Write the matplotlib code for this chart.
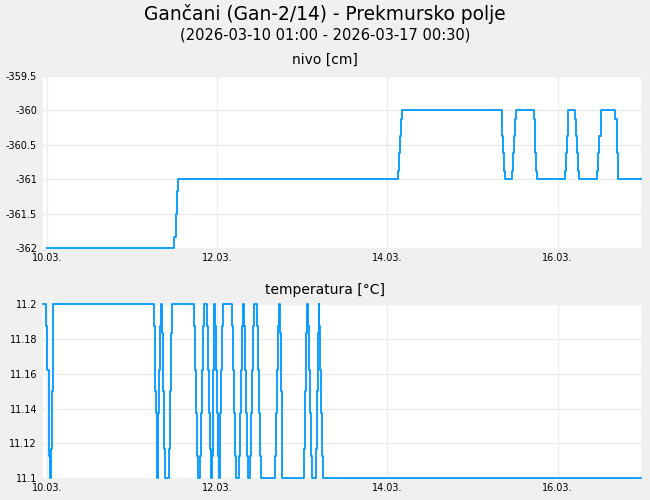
import matplotlib
matplotlib.use("Agg")
import matplotlib.pyplot as plt
import matplotlib.dates as mdates
import pandas as pd

plt.rcParams['font.family'] = ['DejaVu Sans']
plt.rcParams['axes.unicode_minus'] = False

title = "Gančani (Gan-2/14) - Prekmursko polje"
subtitle = "(2026-03-10 01:00 - 2026-03-17 00:30)"
title_nivo = "nivo [cm]"
title_temp = "temperatura [°C]"

base = pd.Timestamp("2026-03-10 00:00")
end_hours = 167.5

# nivo: change points (hours since 10.03. 00:00) and level from that moment on
nivo_hours = [0.0, 35.9, 36.3, 36.6, 36.9,
              98.94, 99.22, 99.5, 99.78, 100.06,
              128.2, 128.45, 128.7, 128.9, 129.05,
              131.02, 131.3, 131.58, 131.86, 132.14,
              137.2, 137.48, 137.7, 137.9, 138.05,
              146.1, 146.35, 146.6, 146.8, 146.96,
              148.9, 149.2, 149.5, 149.8, 150.06,
              155.2, 155.5, 155.8, 156.1, 156.3,
              160.3, 160.6, 160.85, 161.0, 161.1,
              167.5]
nivo_values = [-362, -361.833, -361.5, -361.167, -361,
               -360.875, -360.625, -360.375, -360.125, -360,
               -360.125, -360.375, -360.625, -360.875, -361,
               -360.875, -360.625, -360.375, -360.125, -360,
               -360.125, -360.375, -360.625, -360.875, -361,
               -360.875, -360.625, -360.375, -360.125, -360,
               -360.125, -360.375, -360.625, -360.875, -361,
               -360.875, -360.625, -360.375, -360.125, -360,
               -360.125, -360.375, -360.625, -360.875, -361,
               -361]

# temperatura: change points and level from that moment on
temp_hours = [-1.0, -0.1, 0.17, 0.56, 0.73, 1.01, 1.21, 1.41, 1.69, 1.86,
              30.28, 30.56, 30.84, 31.04, 31.12, 31.4, 31.69, 31.97, 32.25,
              32.53, 32.81, 33.01, 33.21, 34.33, 34.61, 34.89, 35.18,
              41.37, 41.65, 41.93, 42.21, 42.49, 43.22, 43.5, 43.79, 44.07, 44.35,
              45.19, 45.47, 45.76, 46.04, 46.23, 46.51, 46.8, 46.99, 47.08,
              47.28, 47.56, 47.84, 48.12, 48.4, 48.68, 48.85, 49.13, 49.33, 49.53,
              52.23, 52.51, 52.79, 53.07, 53.27, 54.2, 54.48, 54.76, 55.04, 55.32,
              55.6, 55.89, 56.17, 56.45, 56.65, 57.29, 57.57, 57.86, 58.14, 58.42,
              59.18, 59.46, 59.74, 60.11, 60.39,
              64.33, 64.61, 64.89, 65.17, 65.45, 65.65, 65.93, 66.21, 66.3,
              72.49, 72.77, 73.05, 73.33, 73.45, 73.53, 73.81, 74.09, 74.37, 74.65,
              75.98, 76.26, 76.43, 76.62, 76.71, 76.82, 77.1, 77.38, 77.67, 77.83,
              167.5]
temp_values = [11.2, 11.1875, 11.1625, 11.1375, 11.1125, 11.1, 11.1167, 11.15, 11.1833, 11.2,
               11.1875, 11.15, 11.1375, 11.1125, 11.1, 11.1375, 11.1625, 11.1875, 11.2,
               11.1833, 11.15, 11.1167, 11.1, 11.1167, 11.15, 11.1833, 11.2,
               11.1875, 11.1625, 11.1375, 11.1125, 11.1, 11.1125, 11.1375, 11.1625, 11.1875, 11.2,
               11.1875, 11.1625, 11.1375, 11.1167, 11.1, 11.1125, 11.1625, 11.1875, 11.2,
               11.1875, 11.1625, 11.1375, 11.1125, 11.1, 11.1125, 11.1375, 11.1625, 11.1875, 11.2,
               11.1875, 11.1625, 11.1375, 11.1125, 11.1, 11.1125, 11.1375, 11.1625, 11.1875, 11.2,
               11.1875, 11.1625, 11.1375, 11.1125, 11.1, 11.1125, 11.1375, 11.1625, 11.1875, 11.2,
               11.1875, 11.1625, 11.1375, 11.1125, 11.1,
               11.1125, 11.1375, 11.1625, 11.1875, 11.2, 11.1833, 11.15, 11.1167, 11.1,
               11.1167, 11.15, 11.1833, 11.1875, 11.2, 11.1875, 11.1625, 11.1375, 11.1125, 11.1,
               11.1167, 11.15, 11.1833, 11.1875, 11.2, 11.1875, 11.1625, 11.1375, 11.1125, 11.1,
               11.1]

nivo_ticks = [-362, -361.5, -361, -360.5, -360, -359.5]
temp_ticks = [11.1, 11.12, 11.14, 11.16, 11.18, 11.2]

line_color = "#0099ff"
grid_color = "#ebebeb"

def to_time(hours):
    return base + pd.to_timedelta(hours, unit="h")

fig = plt.figure(figsize=(6.5, 5), dpi=100, facecolor="#f0f0f0")
W, H = 650.0, 500.0
left = 43.3 / W
width = (641.0 - 43.3) / W
ax1 = fig.add_axes([left, 1 - 248.3 / H, width, (248.3 - 75.7) / H])
ax2 = fig.add_axes([left, 1 - 478.0 / H, width, (478.0 - 304.5) / H])

series = [(ax1, nivo_hours, nivo_values, nivo_ticks, (-362, -359.5)),
          (ax2, temp_hours, temp_values, temp_ticks, (11.1, 11.2))]
for ax, hrs, vals, ticks, ylim in series:
    ax.set_facecolor("white")
    ax.plot(to_time(hrs), vals, drawstyle="steps-post", color=line_color,
            lw=1.3, clip_on=False, zorder=3)
    ax.set_xlim(to_time(-1.0), to_time(end_hours))
    ax.set_ylim(*ylim)
    ax.set_yticks(ticks)
    ax.yaxis.set_major_formatter(matplotlib.ticker.FormatStrFormatter("%g"))
    ax.xaxis.set_major_locator(mdates.DayLocator(bymonthday=[10, 12, 14, 16]))
    ax.xaxis.set_major_formatter(mdates.DateFormatter("%d.%m."))
    ax.grid(True, color=grid_color, lw=1, zorder=0)
    for s in ax.spines.values():
        s.set_visible(False)
    ax.tick_params(length=0, labelsize=7, pad=4.5, colors="black")
    ax.tick_params(axis="x", pad=3.5)

fig.text(0.5, 1 - 14 / H, title, ha="center", va="center", fontsize=13.4)
fig.text(0.5, 1 - 35 / H, subtitle, ha="center", va="center", fontsize=10.5)
fig.text(0.5, 1 - 60 / H, title_nivo, ha="center", va="center", fontsize=10)
fig.text(0.5, 1 - 290 / H, title_temp, ha="center", va="center", fontsize=10)

fig.savefig("out.png", dpi=100, facecolor=fig.get_facecolor())
